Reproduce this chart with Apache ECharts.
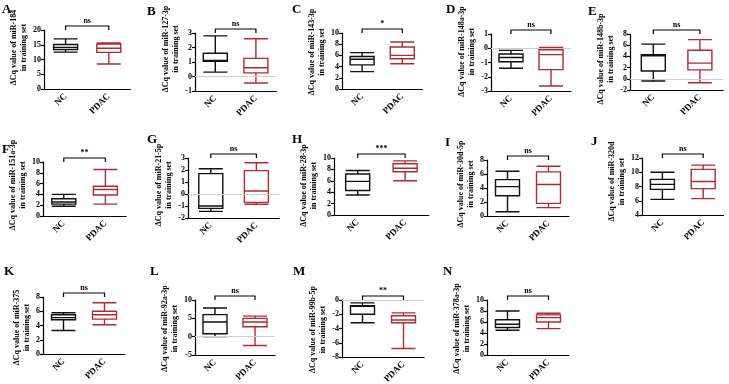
<!DOCTYPE html>
<html>
<head>
<meta charset="utf-8">
<script src="https://cdn.jsdelivr.net/npm/echarts@6/dist/echarts.min.js"></script>
<style>
  html, body { margin: 0; padding: 0; background: #fff; }
  #chart { width: 729px; height: 384px; }
</style>
</head>
<body>
<div id="chart"></div>
<script>
const groups = ["NC", "PDAC"];
const letters = ["A", "B", "C", "D", "E", "F", "G", "H", "I", "J", "K", "L", "M", "N"];
const mirs = ["miR-184", "miR-127-3p", "miR-143-3p", "miR-148a-3p", "miR-148b-3p",
  "miR-151a-3p", "miR-21-5p", "miR-28-3p", "miR-30d-5p", "miR-320d",
  "miR-375", "miR-92a-3p", "miR-99b-5p", "miR-378a-3p"];
const signif = ["ns", "ns", "*", "ns", "ns", "**", "ns", "***", "ns", "ns", "ns", "ns", "**", "ns"];

// y axis [min, max, interval]
const yRanges = [
  [0, 20, 5], [-1, 3, 1], [0, 10, 2], [-3, 1, 1], [-2, 8, 2],
  [0, 10, 2], [-2, 3, 1], [0, 10, 2], [0, 8, 2], [4, 12, 2],
  [0, 8, 2], [-5, 10, 5], [-8, 0, 2], [0, 10, 2]
];

// [min, Q1, median, Q3, max]
const ncBoxes = [
  [12.5, 13.4, 14.1, 15.1, 17], [0.3, 1.05, 1.1, 1.6, 2.8], [3.1, 4.3, 5.3, 5.8, 6.5],
  [-1.4, -0.95, -0.65, -0.4, -0.15], [-0.4, 1.4, 4.1, 4.3, 6.2],
  [1.8, 2.2, 2.6, 3.2, 4.0], [-1.45, -1.2, -1.0, 1.7, 2.1], [3.5, 4.3, 5.9, 7.2, 7.8],
  [0.6, 2.9, 4.2, 5.2, 6.4], [6.2, 7.6, 8.3, 9.0, 10.0],
  [3.3, 4.8, 5.1, 5.5, 5.8], [0, 0.8, 4.0, 6.0, 7.8], [-3.2, -2.0, -0.9, -0.8, -0.4],
  [4.5, 5.0, 5.6, 6.4, 8.0]
];
const pdacBoxes = [
  [8.5, 12.4, 13.8, 15.2, 15.6], [-0.45, 0.25, 0.6, 1.25, 2.6], [4.5, 5.4, 6.0, 7.5, 8.4],
  [-2.65, -1.5, -0.45, -0.1, 0.05], [-0.7, 1.6, 2.8, 5.1, 7.0],
  [2.2, 3.9, 4.9, 5.5, 8.6], [-0.85, -0.7, 0.25, 1.95, 2.6], [6.0, 7.6, 8.2, 9.0, 9.5],
  [1.2, 1.8, 4.5, 6.3, 7.1], [6.3, 7.7, 8.7, 10.4, 11.0],
  [4.1, 4.9, 5.5, 6.0, 7.2], [-2.4, 2.7, 4.0, 5.0, 5.6], [-6.8, -3.2, -2.8, -2.2, -1.8],
  [4.8, 6.0, 6.8, 7.3, 7.6]
];

// panel layout: [axis x, top y, bottom y, NC center x, PDAC center x, letter x, letter y,
//                name gap, name shift up]
const layout = [
  [44, 30, 89, 69.5, 107.5, 2, 3, 15, 12], [195, 33, 91, 218, 255, 147, 5, 8, 13],
  [342, 33, 89, 366, 401, 292, 3, 13, 9], [491, 34, 91, 514, 550, 446, 3, 11, 11],
  [630, 34, 90, 662, 697, 588, 5, 6, 3],
  [43, 162, 216, 68, 104, 2, 143, 12, 4], [188, 158, 218, 218, 254, 147, 133, 12, 3],
  [334, 158, 215, 367, 402, 292, 133, 10, 1], [487, 160, 216, 512, 547, 445, 136, 10, 4],
  [642, 158, 215, 666, 702, 591, 135, 12, 5],
  [43, 297, 354, 68, 103, 4, 265, 10, -2], [195, 300, 355, 218, 254, 150, 265, 11, -1],
  [342, 300, 357, 367, 402, 293, 265, 8, -1], [487, 300, 355, 512, 547, 443, 265, 10, -1]
];

const FONT = '"Liberation Serif", "Times New Roman", serif';
const RED = "#b02a37";
const axisLineStyle = { color: "#000", width: 1.2 };

const grids = [], xAxes = [], yAxes = [], series = [], graphics = [];

layout.forEach(function (L, i) {
  const [ax, top, bottom, c1, c2, lx, ly, gap, shift] = L;
  const w = 0.4 * (c1 - ax) + 1.2 * (c2 - ax);
  grids.push({ left: ax, top: top, width: w, height: bottom - top, outerBoundsMode: "none" });

  xAxes.push({
    gridIndex: i,
    type: "category",
    data: groups,
    axisLine: { onZero: false, lineStyle: axisLineStyle },
    axisTick: { alignWithLabel: true, length: 3, lineStyle: axisLineStyle },
    axisLabel: { rotate: 45, margin: 6, color: "#000", fontFamily: FONT, fontWeight: "bold", fontSize: 9 }
  });

  const [ymin, ymax, step] = yRanges[i];
  yAxes.push({
    gridIndex: i,
    type: "value",
    min: ymin,
    max: ymax,
    interval: step,
    name: "\u0394Cq value of " + mirs[i] + "\nin training set",
    nameLocation: "middle",
    nameGap: gap,
    nameTextStyle: {
      color: "#000", fontFamily: FONT, fontWeight: "bold", fontSize: 8, lineHeight: 10,
      padding: shift >= 0 ? [0, 0, 0, 2 * shift] : [0, -2 * shift, 0, 0]
    },
    axisLine: { show: true, lineStyle: axisLineStyle },
    axisTick: { show: true, length: 3, lineStyle: axisLineStyle },
    axisLabel: { margin: 3, color: "#000", fontFamily: FONT, fontWeight: "bold", fontSize: 8 },
    splitLine: { show: false }
  });

  const box = {
    type: "boxplot",
    xAxisIndex: i,
    yAxisIndex: i,
    boxWidth: [24, 24],
    silent: true,
    data: [
      { value: ncBoxes[i], itemStyle: { color: "#fff", borderColor: "#111", borderWidth: 1.4 } },
      { value: pdacBoxes[i], itemStyle: { color: "#fff", borderColor: RED, borderWidth: 1.4 } }
    ]
  };
  if (ymin < 0) {
    box.markLine = {
      silent: true,
      symbol: "none",
      label: { show: false },
      lineStyle: { color: "#cfcfcf", width: 1, type: "solid" },
      data: [{ yAxis: 0 }]
    };
  }
  series.push(box);

  const sig = signif[i];
  series.push({
    type: "custom",
    xAxisIndex: i,
    yAxisIndex: i,
    clip: false,
    silent: true,
    data: [[0, ymax]],
    renderItem: function (params, api) {
      const p1 = api.coord([0, api.value(1)]);
      const p2 = api.coord([1, api.value(1)]);
      const y = p1[1] - 4;
      return {
        type: "group",
        children: [
          {
            type: "polyline",
            shape: { points: [[p1[0], y + 4], [p1[0], y], [p2[0], y], [p2[0], y + 4]] },
            style: { stroke: "#000", lineWidth: 1.2, fill: null }
          },
          {
            type: "text",
            style: {
              text: sig, x: (p1[0] + p2[0]) / 2, y: y - 1,
              align: "center", verticalAlign: "bottom",
              fontFamily: FONT, fontWeight: "bold", fontSize: 8, fill: "#000"
            }
          }
        ]
      };
    }
  });

  graphics.push({
    type: "text",
    left: lx,
    top: ly,
    style: { text: letters[i], fontFamily: FONT, fontWeight: "bold", fontSize: 13, fill: "#000" }
  });
});

const chart = echarts.init(document.getElementById("chart"));
chart.setOption({
  animation: false,
  backgroundColor: "#fff",
  grid: grids,
  xAxis: xAxes,
  yAxis: yAxes,
  series: series,
  graphic: graphics
});
</script>
</body>
</html>
